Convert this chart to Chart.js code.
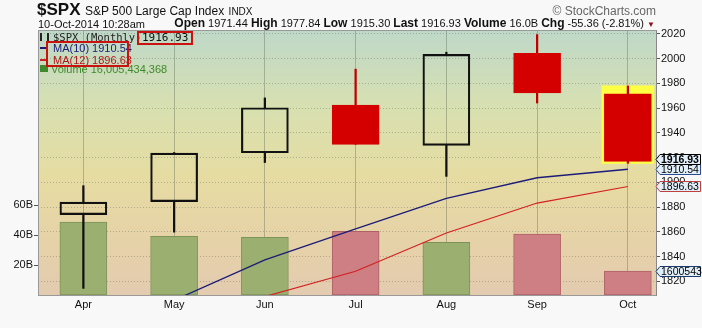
<!DOCTYPE html>
<html lang="en">
  <head>
    <meta charset="UTF-8">
    <title>$SPX Monthly</title>
    <script src="https://cdn.jsdelivr.net/npm/chart.js"></script>
    <style>
      body { margin: 0; background: #f8f8f8; font-family: "Liberation Sans", Arial, sans-serif; }
      #wrap { position: relative; width: 702px; height: 328px; overflow: hidden; }
      #chart { position: absolute; left: 0; top: 0; }
      .t { position: absolute; white-space: nowrap; color: #111; }
      .mono { font-family: "DejaVu Sans Mono", monospace; }
      .rbox { position: absolute; border: 2px solid #cc1111; box-sizing: border-box; }
    </style>
  </head>
  <body>
  <div id="wrap">
    <canvas id="chart" width="702" height="328"></canvas>

    <div class="t" style="left:37px; top:2px; line-height:16px;">
      <b style="font-size:17px;">$SPX</b>
      <span style="font-size:12px;">S&amp;P 500 Large Cap Index</span>
      <span style="font-size:10px;">INDX</span>
    </div>
    <div class="t" style="right:46px; top:4px; font-size:12px; color:#666; line-height:14px;">&copy; StockCharts.com</div>
    <div class="t" style="left:38px; top:18px; font-size:11px; line-height:12px;">10-Oct-2014 10:28am</div>
    <div class="t" style="right:47px; top:17px; font-size:11px; line-height:13px;">
      <b style="font-size:12px;">Open</b> 1971.44 <b style="font-size:12px;">High</b> 1977.84
      <b style="font-size:12px;">Low</b> 1915.30 <b style="font-size:12px;">Last</b> 1916.93
      <b style="font-size:12px;">Volume</b> 16.0B <b style="font-size:12px;">Chg</b> -55.36 (-2.81%)
      <span style="color:#8a1020; font-size:8px;">&#9660;</span>
    </div>

    <!-- legend inside the plot -->
    <div class="t" style="left:40px; top:33px; width:9px; height:8px; border-left:2px solid #222; border-right:2px solid #222; box-sizing:border-box;"></div>
    <div class="t mono" style="left:53px; top:31px; font-size:10.5px; line-height:12px; color:#222;">$SPX (Monthly)</div>
    <div class="rbox" style="left:137px; top:31px; width:56px; height:14px;"></div>
    <div class="t mono" style="left:142px; top:32px; font-size:11px; line-height:12px; color:#111;">1916.93</div>

    <div class="t" style="left:40px; top:47px; width:7px; height:2px; background:#1c1c78;"></div>
    <div class="t" style="left:53px; top:42px; font-size:11px; line-height:12px; color:#1c1c78;">MA(10) 1910.54</div>
    <div class="t" style="left:40px; top:59px; width:7px; height:2px; background:#cc2222;"></div>
    <div class="t" style="left:53px; top:54px; font-size:11px; line-height:12px; color:#b01818;">MA(12) 1896.63</div>
    <div class="t" style="left:40px; top:65px; width:8px; height:7px; background:#3f8a2a;"></div>
    <div class="t" id="volText" style="left:51px; top:63px; font-size:11px; line-height:12px; color:#3f8a2a;"></div>
    <div class="rbox" style="left:46px; top:41px; width:83px; height:26px;"></div>
  </div>
    <script>
      const months = ['Apr', 'May', 'Jun', 'Jul', 'Aug', 'Sep', 'Oct'];
      const open  = [1873.96, 1884.39, 1923.87, 1962.29, 1929.80, 2004.07, 1971.44];
      const high  = [1897.28, 1924.03, 1968.17, 1991.39, 2005.04, 2019.26, 1977.84];
      const low   = [1814.36, 1859.79, 1915.98, 1930.67, 1904.78, 1964.04, 1915.30];
      const close = [1883.95, 1923.57, 1960.23, 1930.67, 2003.37, 1972.29, 1916.93];
      const ma10  = [1780.93, 1804.71, 1837.44, 1862.35, 1887.03, 1903.68, 1910.54];
      const ma12  = [1753.86, 1778.26, 1807.76, 1828.17, 1859.04, 1883.26, 1896.63];
      // volume in billions
      const volume = [48.7, 39.1, 38.4, 42.4, 35.1, 40.7, 16.0];
      const lastVolume = 16005434368;
      const priceTicks = [1820, 1840, 1860, 1880, 1900, 1920, 1940, 1960, 1980, 2000, 2020];
      const volTicks = [20, 40, 60];

      document.getElementById('volText').textContent = 'Volume ' + lastVolume.toLocaleString('en-US');

      const last = months.length - 1;
      const up = close.map((c, i) => c >= open[i]);
      const gridColor = 'rgba(110,120,100,0.45)';
      const tickFont = { family: '"Liberation Sans", Arial', size: 11 };

      const bgPlugin = {
        id: 'bg',
        beforeDraw(chart) {
          const { ctx, chartArea: a } = chart;
          const g = ctx.createLinearGradient(0, a.top, 0, a.bottom);
          g.addColorStop(0, '#bed8c8');
          g.addColorStop(0.3, '#d8e0b0');
          g.addColorStop(0.55, '#e6dca2');
          g.addColorStop(0.8, '#e6d2a8');
          g.addColorStop(1, '#e3cbb0');
          ctx.save();
          ctx.fillStyle = g;
          ctx.fillRect(a.left, a.top, a.right - a.left, a.bottom - a.top);
          ctx.restore();
        },
        afterDraw(chart) {
          const { ctx, chartArea: a } = chart;
          ctx.save();
          ctx.strokeStyle = '#999';
          ctx.lineWidth = 1;
          ctx.beginPath();
          ctx.moveTo(a.left, a.top + 0.5);
          ctx.lineTo(a.right, a.top + 0.5);
          ctx.stroke();
          ctx.restore();
        }
      };

      const tagPlugin = {
        id: 'tags',
        afterDraw(chart) {
          const { ctx, chartArea: a } = chart;
          const p = chart.scales.price, v = chart.scales.vol;
          const tags = [
            { y: v.getPixelForValue(volume[last]), text: String(lastVolume).slice(0, 7), border: '#1a3a70' },
            { y: p.getPixelForValue(ma12[last]), text: ma12[last].toFixed(2), border: '#c04040' },
            { y: p.getPixelForValue(ma10[last]), text: ma10[last].toFixed(2), border: '#2a4a90' },
            { y: p.getPixelForValue(close[last]) - 2, text: close[last].toFixed(2), border: '#000', bold: true }
          ];
          ctx.save();
          tags.forEach(t => {
            const x0 = a.right, y = Math.round(t.y) + 0.5;
            ctx.beginPath();
            ctx.moveTo(x0, y);
            ctx.lineTo(x0 + 4, y - 5);
            ctx.lineTo(700.5, y - 5);
            ctx.lineTo(700.5, y + 5);
            ctx.lineTo(x0 + 4, y + 5);
            ctx.closePath();
            ctx.fillStyle = '#e2eff9';
            ctx.fill();
            ctx.strokeStyle = t.border;
            ctx.lineWidth = 1;
            ctx.stroke();
            ctx.fillStyle = '#000';
            ctx.font = (t.bold ? 'bold 10.5px' : '10.5px') + ' "Liberation Sans", Arial';
            ctx.textBaseline = 'middle';
            ctx.fillText(t.text, x0 + 5, y + 0.5);
          });
          ctx.restore();
        }
      };

      const pts = arr => arr.map((val, i) => ({ x: i, y: val }));

      const ctx = document.getElementById('chart').getContext('2d');
      new Chart(ctx, {
        type: 'bar',
        data: {
          datasets: [
            {
              // candle bodies
              data: months.map((m, i) => ({ x: i, y: [open[i], close[i]] })),
              yAxisID: 'price',
              backgroundColor: up.map(u => u ? 'rgba(0,0,0,0)' : '#d40000'),
              borderColor: up.map(u => u ? '#111' : '#d40000'),
              borderWidth: 1.5,
              borderSkipped: false,
              barThickness: 47,
              grouped: false,
              order: 0
            },
            {
              // upper wicks
              data: months.map((m, i) => ({ x: i, y: [Math.max(open[i], close[i]), high[i]] })),
              yAxisID: 'price',
              backgroundColor: up.map(u => u ? '#111' : '#c00000'),
              borderWidth: 0,
              barThickness: 1.6,
              grouped: false,
              order: 1
            },
            {
              // lower wicks
              data: months.map((m, i) => ({ x: i, y: [low[i], Math.min(open[i], close[i])] })),
              yAxisID: 'price',
              backgroundColor: up.map(u => u ? '#111' : '#c00000'),
              borderWidth: 0,
              barThickness: 1.6,
              grouped: false,
              order: 1
            },
            {
              type: 'line',
              data: pts(ma10),
              yAxisID: 'price',
              borderColor: '#1c1c78',
              borderWidth: 1.3,
              pointRadius: 0,
              order: 2
            },
            {
              type: 'line',
              data: pts(ma12),
              yAxisID: 'price',
              borderColor: '#d42020',
              borderWidth: 1.2,
              pointRadius: 0,
              order: 2
            },
            {
              // volume
              data: pts(volume),
              yAxisID: 'vol',
              backgroundColor: up.map(u => u ? '#9bb070' : '#cd7f84'),
              borderColor: up.map(u => u ? '#7d9458' : '#b06064'),
              borderWidth: 1,
              borderSkipped: false,
              barThickness: 47,
              grouped: false,
              order: 3
            },
            {
              // highlight of the current bar
              data: [{ x: last, y: [low[last], high[last]] }],
              yAxisID: 'price',
              backgroundColor: '#ffff44',
              barThickness: 52,
              grouped: false,
              order: 4
            }
          ]
        },
        options: {
          responsive: false,
          animation: false,
          layout: { padding: { top: 30 } },
          plugins: { legend: { display: false }, tooltip: { enabled: false } },
          scales: {
            x: {
              type: 'linear',
              min: -0.5,
              max: 6.31,
              offset: false,
              afterBuildTicks: s => { s.ticks = months.map((m, i) => ({ value: i })); },
              afterFit: s => { s.height = 33; },
              ticks: { callback: v => months[v], font: tickFont, color: '#111', padding: 3, maxRotation: 0, autoSkip: false },
              grid: { color: gridColor, drawTicks: false, offset: false },
              border: { color: '#999' }
            },
            vol: {
              position: 'left',
              min: 0,
              max: 176.7,
              afterBuildTicks: s => { s.ticks = volTicks.map(v => ({ value: v })); },
              afterFit: s => { s.width = 38; },
              ticks: { callback: v => v + 'B', font: tickFont, color: '#111', padding: 1 },
              grid: { drawOnChartArea: false, tickLength: 4, tickColor: '#555' },
              border: { color: '#999' }
            },
            price: {
              position: 'right',
              min: 1809,
              max: 2023,
              afterBuildTicks: s => { s.ticks = priceTicks.map(v => ({ value: v })); },
              afterFit: s => { s.width = 46; },
              ticks: { callback: v => v, font: tickFont, color: '#111', padding: 1 },
              grid: { color: gridColor, tickLength: 4, tickColor: '#555' },
              border: { color: '#888', dash: [1, 2] }
            }
          }
        },
        plugins: [bgPlugin, tagPlugin]
      });
    </script>
  </body>
</html>
